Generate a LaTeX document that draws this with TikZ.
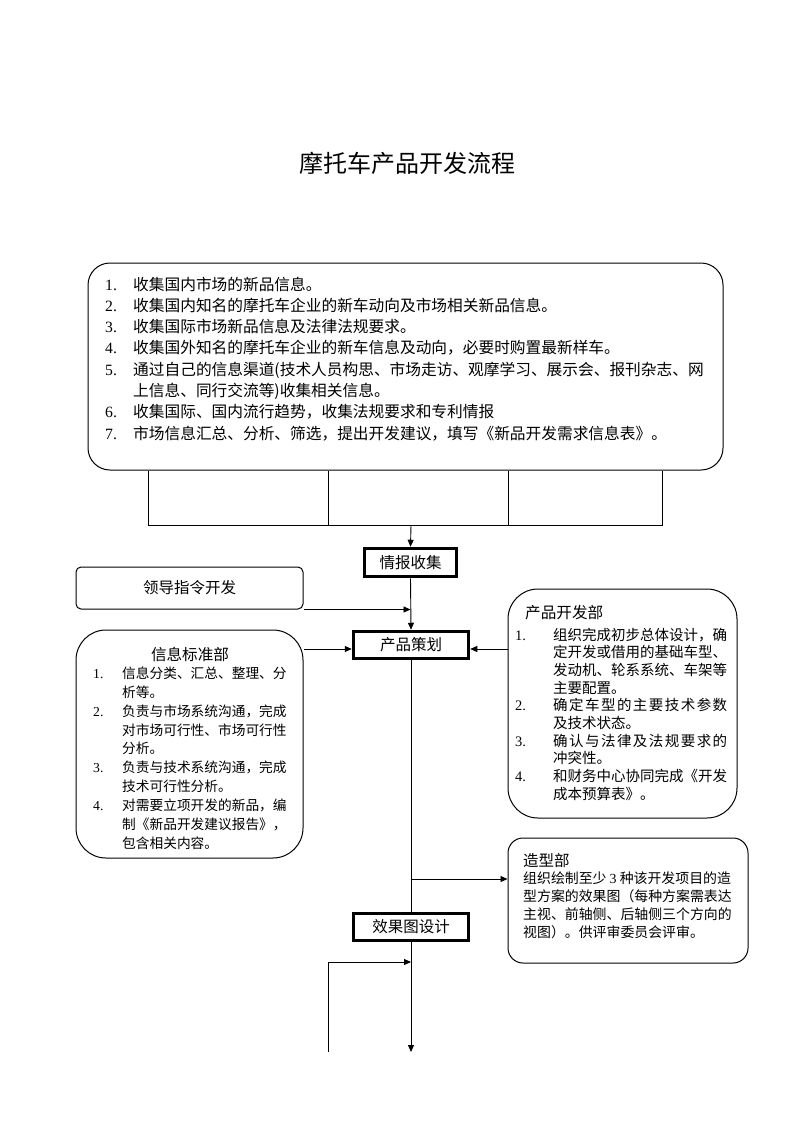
\documentclass[tikz,border=0pt]{standalone}
\usepackage{fontspec}
\setmainfont{Liberation Serif}
\newfontfamily\cjk{Noto Sans CJK SC}
\usetikzlibrary{arrows.meta,calc}
\newcommand\li[3]{\makebox[#1][l]{\rmfamily #2}#3}
\tikzset{
  line/.style={draw=black, line width=0.9pt},
  arr/.style={line, -{Triangle[length=7pt,width=6pt]}},
  thickbox/.style={draw, line width=3.5pt, inner sep=0pt, font=\cjk\fontsize{15.5}{18}\selectfont},
  rbox/.style={draw, line width=1pt, inner sep=0pt},
  txt/.style={inner sep=0pt, align=left, anchor=north west},
}
\begin{document}
\begin{tikzpicture}[x=1pt,y=-1pt]
\fill[white] (0,0) rectangle (793,1122);
\useasboundingbox (0,0) rectangle (793,1122);

% title
\node[inner sep=0pt, font=\cjk\fontsize{24}{28}\selectfont] (title) at (407,163) {摩托车产品开发流程};

% big information box
\node[rbox, rounded corners=22pt, minimum width=635pt, minimum height=207pt] (info) at (405.5,366.5) {};
\node[txt, font=\cjk\fontsize{15.7}{21.3}\selectfont] (infotext) at (105,276.5) {%
\li{28pt}{1.}{收集国内市场的新品信息。}\\
\li{28pt}{2.}{收集国内知名的摩托车企业的新车动向及市场相关新品信息。}\\
\li{28pt}{3.}{收集国际市场新品信息及法律法规要求。}\\
\li{28pt}{4.}{收集国外知名的摩托车企业的新车信息及动向，必要时购置最新样车。}\\
\li{28pt}{5.}{通过自己的信息渠道(技术人员构思、市场走访、观摩学习、展示会、报刊杂志、网}\\
\li{28pt}{}{上信息、同行交流等)收集相关信息。}\\
\li{28pt}{6.}{收集国际、国内流行趋势，收集法规要求和专利情报}\\
\li{28pt}{7.}{市场信息汇总、分析、筛选，提出开发建议，填写《新品开发需求信息表》。}};

% collector lines under the big box
\coordinate (j1) at (148,525);
\coordinate (j2) at (328,525);
\coordinate (j3) at (508,525);
\coordinate (j4) at (662,525);
\coordinate (jm) at (411,525);
\draw[line] (info.south -| j1) -- (j1) -- (j4) -- (info.south -| j4);
\draw[line] (info.south -| j2) -- (j2);
\draw[line] (info.south -| j3) -- (j3);

% main flow boxes
\node[thickbox, minimum width=92pt, minimum height=28pt] (qb) at (410.5,562.5) {情报收集};
\node[thickbox, minimum width=115pt, minimum height=27pt] (cp) at (411,645) {产品策划};
\node[thickbox, minimum width=115pt, minimum height=27pt] (xg) at (411,927) {效果图设计};

\draw[arr] (jm) -- (qb.north);
\draw[arr] (qb.south) -- (cp.north);

% leadership box
\node[rbox, rounded corners=5pt, minimum width=227pt, minimum height=42pt, font=\cjk\fontsize{15.5}{18}\selectfont] (lead) at (189.5,588) {领导指令开发};
\draw[arr] (lead.south east) -- (lead.south east -| qb.south);

% information standard department
\node[rbox, rounded corners=30pt, minimum width=227pt, minimum height=228pt] (std) at (189.5,744) {};
\node[inner sep=0pt, font=\cjk\fontsize{15.6}{18}\selectfont] (stdtitle) at (190,655) {信息标准部};
\node[txt, font=\cjk\fontsize{13.7}{18.9}\selectfont] (stdtext) at (93,666.5) {%
\li{29pt}{1.}{信息分类、汇总、整理、分}\\
\li{29pt}{}{析等。}\\
\li{29pt}{2.}{负责与市场系统沟通，完成}\\
\li{29pt}{}{对市场可行性、市场可行性}\\
\li{29pt}{}{分析。}\\
\li{29pt}{3.}{负责与技术系统沟通，完成}\\
\li{29pt}{}{技术可行性分析。}\\
\li{29pt}{4.}{对需要立项开发的新品，编}\\
\li{29pt}{}{制《新品开发建议报告》，}\\
\li{29pt}{}{包含相关内容。}};
\draw[arr] ($(std.east |- cp.west)+(0,4)$) -- ($(cp.west)+(0,4)$);

% product development department
\node[rbox, rounded corners=30pt, minimum width=229pt, minimum height=229pt] (dev) at (622.5,703.5) {};
\node[inner sep=0pt, anchor=west, font=\cjk\fontsize{15.6}{18}\selectfont] (devtitle) at (525,613) {产品开发部};
\node[txt, font=\cjk\fontsize{14.5}{17.7}\selectfont] (devtext) at (515,627.5) {%
\li{38pt}{1.}{组织完成初步总体设计，确}\\
\li{38pt}{}{定开发或借用的基础车型、}\\
\li{38pt}{}{发动机、轮系系统、车架等}\\
\li{38pt}{}{主要配置。}\\
\li{38pt}{2.}{\makebox[174pt][s]{确\hfill 定\hfill 车\hfill 型\hfill 的\hfill 主\hfill 要\hfill 技\hfill 术\hfill 参\hfill 数}}\\
\li{38pt}{}{及技术状态。}\\
\li{38pt}{3.}{\makebox[174pt][s]{确\hfill 认\hfill 与\hfill 法\hfill 律\hfill 及\hfill 法\hfill 规\hfill 要\hfill 求\hfill 的}}\\
\li{38pt}{}{冲突性。}\\
\li{38pt}{4.}{和财务中心协同完成《开发}\\
\li{38pt}{}{成本预算表》。}};
\draw[arr] ($(dev.west |- cp.east)+(0,4)$) -- ($(cp.east)+(0,4)$);

% styling department
\node[rbox, rounded corners=15pt, minimum width=240pt, minimum height=125pt] (shape) at (628,900.5) {};
\node[inner sep=0pt, anchor=west, font=\cjk\fontsize{15.5}{18}\selectfont] (shapetitle) at (523,861) {造型部};
\node[txt, font=\cjk\fontsize{13.9}{18}\selectfont] (shapetext) at (523,871.7) {%
组织绘制至少 {\rmfamily 3} 种该开发项目的造\\
型方案的效果图（每种方案需表达\\
主视、前轴侧、后轴侧三个方向的\\
视图）。供评审委员会评审。};

% flow from planning to rendering design
\coordinate (b1) at (411,879);
\draw[line] (cp.south) -- (xg.north);
\draw[arr] (b1) -- (b1 -| shape.west);

% bottom part
\coordinate (endp) at (411,1052);
\coordinate (lp) at (328,1052);
\coordinate (m) at (411,962);
\draw[arr] (xg.south) -- (endp);
\draw[arr] (lp) |- (m);
\end{tikzpicture}
\end{document}
